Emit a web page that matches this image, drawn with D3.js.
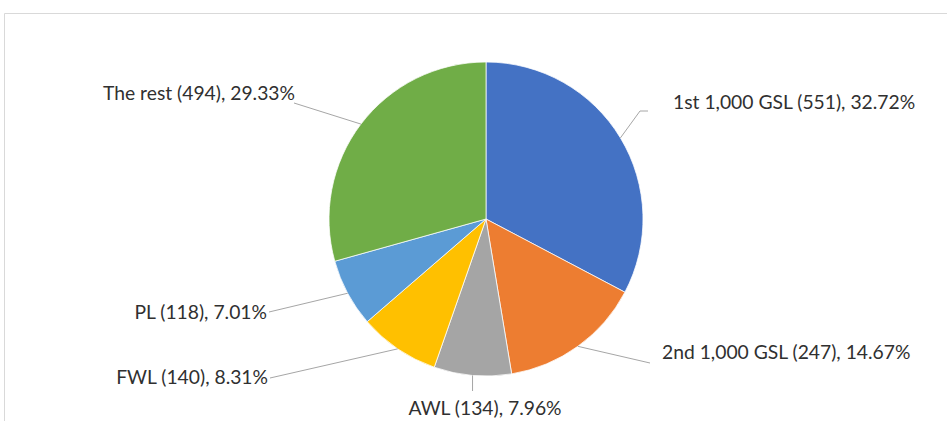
<!DOCTYPE html>
<html>
<head>
<meta charset="utf-8">
<script src="https://cdn.jsdelivr.net/npm/d3@7"></script>
<style>
  body { margin: 0; background: #fff; }
  text { font-family: Lato, "Open Sans", sans-serif; fill: #303030; }
</style>
</head>
<body>
<svg class="chart"></svg>
<script>
var width = 947,
    height = 421;

// data
var categories = ["1st 1,000 GSL", "2nd 1,000 GSL", "AWL", "FWL", "PL", "The rest"];
var counts = [551, 247, 134, 140, 118, 494];
var percents = ["32.72%", "14.67%", "7.96%", "8.31%", "7.01%", "29.33%"];
var colors = ["#4472c4", "#ed7d31", "#a5a5a5", "#ffc000", "#5b9bd5", "#70ad47"];

// where excel put each data label (text x/y, anchor, leader line end)
var labelLayout = [
  {tx: 673, ty: 102, anchor: "start",  lx: 648, ly: 111, bx: 640},
  {tx: 662, ty: 352, anchor: "start",  lx: 650, ly: 363},
  {tx: 485, ty: 408, anchor: "middle", lx: null, ly: 391},
  {tx: 268, ty: 377, anchor: "end",    lx: 270, ly: 378},
  {tx: 267, ty: 312, anchor: "end",    lx: 269, ly: 312},
  {tx: 295, ty: 93,  anchor: "end",    lx: 294, ly: 103}
];

var cx = 486, cy = 219, r = 157;

var chart = d3.select(".chart")
    .attr("width", width)
    .attr("height", height);

// plot area frame
chart.append("path")
    .attr("d", "M4.5," + height + "V13.5H" + width)
    .attr("fill", "none")
    .attr("stroke", "#d9d9d9");

var data = categories.map(function(c, i) {
  return {name: c, value: counts[i], pct: percents[i], color: colors[i], layout: labelLayout[i]};
});

var pie = d3.pie()
    .sort(null)
    .value(function(d) { return d.value; });

var arc = d3.arc()
    .innerRadius(0)
    .outerRadius(r);

var arcs = pie(data);

var g = chart.append("g")
    .attr("transform", "translate(" + cx + "," + cy + ")");

g.selectAll("path.slice")
    .data(arcs)
  .enter().append("path")
    .attr("class", "slice")
    .attr("d", arc)
    .attr("fill", function(d) { return d.data.color; })
    .attr("stroke", "#fff")
    .attr("stroke-width", 0.75);

// leader lines
g.selectAll("path.leader")
    .data(arcs)
  .enter().append("path")
    .attr("class", "leader")
    .attr("fill", "none")
    .attr("stroke", "#a6a6a6")
    .attr("stroke-width", 1)
    .attr("d", function(d) {
      var a = (d.startAngle + d.endAngle) / 2;
      var x0 = Math.sin(a) * r, y0 = -Math.cos(a) * r;
      var L = d.data.layout;
      var lx = (L.lx === null ? cx + x0 : L.lx) - cx, ly = L.ly - cy;
      if (L.bx) return "M" + x0 + "," + y0 + "L" + (L.bx - cx) + "," + ly + "H" + lx;
      return "M" + x0 + "," + y0 + "L" + lx + "," + ly;
    });

chart.selectAll("text.label")
    .data(arcs)
  .enter().append("text")
    .attr("class", "label")
    .attr("x", function(d) { return d.data.layout.tx; })
    .attr("y", function(d) { return d.data.layout.ty; })
    .attr("dy", "0.35em")
    .attr("text-anchor", function(d) { return d.data.layout.anchor; })
    .style("font-size", "19.3px")
    .text(function(d) { return d.data.name + " (" + d.data.value + "), " + d.data.pct; });
</script>
</body>
</html>
